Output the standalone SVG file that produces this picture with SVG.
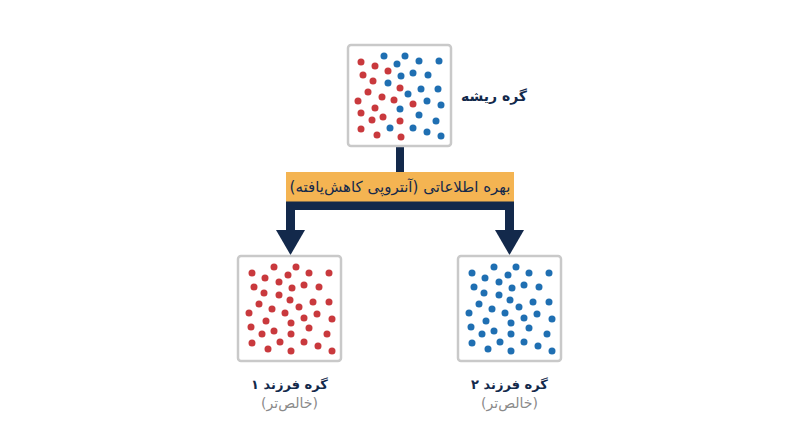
<svg xmlns="http://www.w3.org/2000/svg" xmlns:xlink="http://www.w3.org/1999/xlink" width="800" height="447" viewBox="0 0 800 447">
<style>
.box{fill:#fff;stroke:#c9c9c9;stroke-width:2.5}
.red{fill:#c9393d}
.blue{fill:#1f6fb2}
.lbl{font-family:"DejaVu Sans",sans-serif;font-weight:bold;font-size:14px;fill:#13294b;text-anchor:middle;direction:rtl}
.clbl{font-family:"DejaVu Sans",sans-serif;font-weight:bold;font-size:13px;fill:#13294b;text-anchor:middle;direction:rtl}
.sub{font-family:"DejaVu Sans",sans-serif;font-size:14px;fill:#8a8a8a;text-anchor:middle;direction:rtl}
.gain{font-family:"DejaVu Sans",sans-serif;font-size:15px;fill:#13294b;text-anchor:middle;direction:rtl}
.conn{fill:none;stroke:#13294b;stroke-linejoin:miter;stroke-linecap:butt}
</style>
<defs>
<marker id="ah" markerUnits="userSpaceOnUse" viewBox="0 0 25 29" markerWidth="25" markerHeight="29" refX="0" refY="14.5" orient="auto-start-reverse">
<path d="M0,0 L25,14.5 L0,29 Z" fill="#13294b"/>
</marker>
<g id="dots">
<circle cx="14" cy="17" r="3.5"/><circle cx="36" cy="11" r="3.5"/><circle cx="58" cy="11" r="3.5"/><circle cx="71" cy="17" r="3.5"/><circle cx="91" cy="17" r="3.5"/>
<circle cx="27" cy="22" r="3.5"/><circle cx="50" cy="19" r="3.5"/><circle cx="41" cy="26" r="3.5"/><circle cx="16" cy="31" r="3.5"/><circle cx="54" cy="32" r="3.5"/>
<circle cx="66" cy="29" r="3.5"/><circle cx="81" cy="31" r="3.5"/><circle cx="26" cy="37" r="3.5"/><circle cx="41" cy="39" r="3.5"/><circle cx="52" cy="44" r="3.5"/>
<circle cx="21" cy="48" r="3.5"/><circle cx="75" cy="46" r="3.5"/><circle cx="91" cy="46" r="3.5"/><circle cx="34" cy="53" r="3.5"/><circle cx="61" cy="51" r="3.5"/>
<circle cx="11" cy="57" r="3.5"/><circle cx="47" cy="57" r="3.5"/><circle cx="79" cy="58" r="3.5"/><circle cx="66" cy="62" r="3.5"/><circle cx="94" cy="63" r="3.5"/>
<circle cx="28" cy="65" r="3.5"/><circle cx="53" cy="67" r="3.5"/><circle cx="13" cy="71" r="3.5"/><circle cx="71" cy="72" r="3.5"/><circle cx="36" cy="75" r="3.5"/>
<circle cx="24" cy="78" r="3.5"/><circle cx="53" cy="78" r="3.5"/><circle cx="89" cy="78" r="3.5"/><circle cx="14" cy="87" r="3.5"/><circle cx="42" cy="86" r="3.5"/>
<circle cx="66" cy="86" r="3.5"/><circle cx="53" cy="95" r="3.5"/><circle cx="30" cy="93" r="3.5"/><circle cx="80" cy="90" r="3.5"/><circle cx="94" cy="95" r="3.5"/>
</g>
</defs>
<rect width="800" height="447" fill="#fff"/>

<g id="connectors">
<line class="conn" x1="400" y1="146" x2="400" y2="174" stroke-width="8"/>
<path class="conn" d="M290.5,230 V205.5 H509.5 V230" stroke-width="9" marker-start="url(#ah)" marker-end="url(#ah)"/>
</g>

<g id="gain">
<rect x="286" y="172" width="228" height="29.5" fill="#f4b452"/>
<text class="gain" x="400" y="192">بهره اطلاعاتی (آنتروپی کاهش‌یافته)</text>
</g>

<g id="root">
<rect class="box" x="348" y="45" width="103" height="101" rx="3"/>
<g class="red">
<circle cx="361" cy="62" r="3.5"/><circle cx="375" cy="66" r="3.5"/><circle cx="388" cy="71" r="3.5"/><circle cx="363" cy="75" r="3.5"/><circle cx="373" cy="81" r="3.5"/>
<circle cx="368" cy="92" r="3.5"/><circle cx="382" cy="97" r="3.5"/><circle cx="394" cy="100" r="3.5"/><circle cx="358" cy="101" r="3.5"/><circle cx="400" cy="88" r="3.5"/>
<circle cx="413" cy="104" r="3.5"/><circle cx="375" cy="108" r="3.5"/><circle cx="361" cy="113" r="3.5"/><circle cx="383" cy="117" r="3.5"/><circle cx="372" cy="120" r="3.5"/>
<circle cx="400" cy="121" r="3.5"/><circle cx="361" cy="129" r="3.5"/><circle cx="377" cy="135" r="3.5"/><circle cx="401" cy="137" r="3.5"/>
</g>
<g class="blue">
<circle cx="384" cy="56" r="3.5"/><circle cx="405" cy="56" r="3.5"/><circle cx="419" cy="61" r="3.5"/><circle cx="439" cy="61" r="3.5"/><circle cx="397" cy="64" r="3.5"/>
<circle cx="413" cy="73" r="3.5"/><circle cx="401" cy="76" r="3.5"/><circle cx="428" cy="75" r="3.5"/><circle cx="388" cy="83" r="3.5"/><circle cx="421" cy="89" r="3.5"/>
<circle cx="438" cy="89" r="3.5"/><circle cx="408" cy="94" r="3.5"/><circle cx="427" cy="101" r="3.5"/><circle cx="441" cy="105" r="3.5"/><circle cx="400" cy="109" r="3.5"/>
<circle cx="419" cy="115" r="3.5"/><circle cx="436" cy="121" r="3.5"/><circle cx="390" cy="128" r="3.5"/><circle cx="413" cy="128" r="3.5"/><circle cx="427" cy="132" r="3.5"/>
<circle cx="441" cy="136" r="3.5"/>
</g>
<text class="lbl" x="494" y="101">گره ریشه</text>
</g>

<g id="child1">
<rect class="box" x="238" y="256" width="103" height="105" rx="3"/>
<use xlink:href="#dots" href="#dots" x="238" y="256" class="red"/>
<text class="clbl" x="289.5" y="389">گره فرزند ۱</text>
<text class="sub" x="289.5" y="408">(خالص‌تر)</text>
</g>

<g id="child2">
<rect class="box" x="458" y="256" width="103" height="105" rx="3"/>
<use xlink:href="#dots" href="#dots" x="458" y="256" class="blue"/>
<text class="clbl" x="509.5" y="389">گره فرزند ۲</text>
<text class="sub" x="509.5" y="408">(خالص‌تر)</text>
</g>
</svg>
